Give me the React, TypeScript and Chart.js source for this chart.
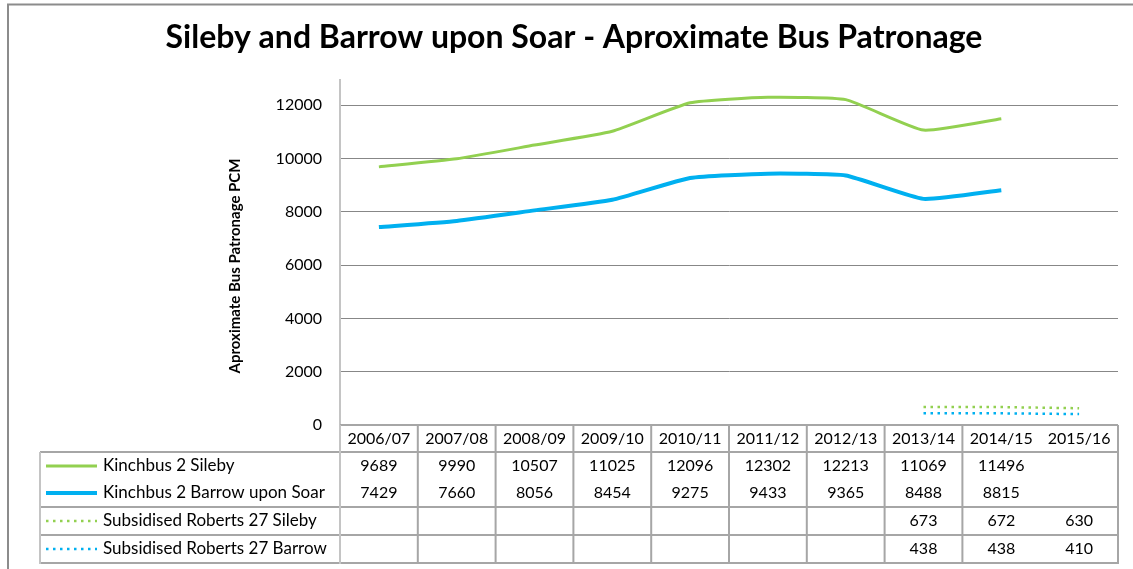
import React, { useEffect, useRef } from 'react';
import { Chart, registerables } from 'chart.js';

Chart.register(...registerables);

const chartTitle = 'Sileby and Barrow upon Soar - Aproximate Bus Patronage';
const yAxisTitle = 'Aproximate Bus Patronage PCM';

const categories = ['2006/07', '2007/08', '2008/09', '2009/10', '2010/11', '2011/12', '2012/13', '2013/14', '2014/15', '2015/16'];

const kinchbusSileby = [9689, 9990, 10507, 11025, 12096, 12302, 12213, 11069, 11496, null];
const kinchbusBarrow = [7429, 7660, 8056, 8454, 9275, 9433, 9365, 8488, 8815, null];
const robertsSileby = [null, null, null, null, null, null, null, 673, 672, 630];
const robertsBarrow = [null, null, null, null, null, null, null, 438, 438, 410];

const seriesNames = [
  'Kinchbus 2 Sileby',
  'Kinchbus 2 Barrow upon Soar',
  'Subsidised Roberts 27 Sileby',
  'Subsidised Roberts 27 Barrow',
];

const yTickValues = [0, 2000, 4000, 6000, 8000, 10000, 12000];

const GREEN = '#92D050';
const BLUE = '#00B0F0';

const FONT = 'Lato, "Noto Sans", sans-serif';

const tablePlugin = {
  id: 'frameTitleTable',
  afterDraw(chart: any) {
    const ctx = chart.ctx as CanvasRenderingContext2D;
    const area = chart.chartArea;
    const n = categories.length;
    const colW = (area.right - area.left) / n;
    const xs = chart.scales.x;
    ctx.save();

    // outer frame (top and left)
    ctx.strokeStyle = '#8c8c8c';
    ctx.lineWidth = 2;
    ctx.beginPath();
    ctx.moveTo(8, 569);
    ctx.lineTo(8, 4.5);
    ctx.lineTo(1133, 4.5);
    ctx.stroke();

    // title
    ctx.fillStyle = '#000';
    ctx.font = 'bold 32px ' + FONT;
    ctx.textAlign = 'center';
    ctx.textBaseline = 'alphabetic';
    ctx.fillText(chartTitle, 574, 48);

    // y axis title
    ctx.save();
    ctx.translate(235, 266);
    ctx.rotate(-Math.PI / 2);
    ctx.font = 'bold 15px ' + FONT;
    ctx.textAlign = 'center';
    ctx.textBaseline = 'middle';
    ctx.fillText(yAxisTitle, 0, 0);
    ctx.restore();

    // data table
    const top = area.bottom;
    const yHeader = top + 27;
    const yGroup = top + 82;
    const yRow3 = top + 110;
    const yBottom = top + 138;
    const tableLeft = 40;

    ctx.strokeStyle = '#a6a6a6';
    ctx.lineWidth = 2;
    ctx.beginPath();
    [yHeader, yGroup, yRow3, yBottom].forEach((y) => {
      ctx.moveTo(tableLeft, y);
      ctx.lineTo(area.right, y);
    });
    ctx.moveTo(area.left, top);
    ctx.lineTo(area.right, top);
    for (let k = 1; k < n; k++) {
      if (k === n - 1) continue;
      const x = area.left + k * colW;
      ctx.moveTo(x, top);
      ctx.lineTo(x, yBottom);
    }
    ctx.moveTo(area.right, top);
    ctx.lineTo(area.right, yBottom + 1);
    ctx.stroke();

    ctx.strokeStyle = '#c4c4c4';
    ctx.beginPath();
    ctx.moveTo(tableLeft, yHeader);
    ctx.lineTo(tableLeft, yBottom + 1);
    ctx.moveTo(area.left, top);
    ctx.lineTo(area.left, yBottom + 1);
    ctx.stroke();

    // header labels and values
    ctx.fillStyle = '#000';
    ctx.font = '16px ' + FONT;
    ctx.textAlign = 'center';
    ctx.textBaseline = 'middle';
    const rowYs = [top + 41, top + 68, top + 96, top + 124];
    const allSeries = [kinchbusSileby, kinchbusBarrow, robertsSileby, robertsBarrow];
    categories.forEach((c, i) => {
      const cx = xs.getPixelForValue(i);
      ctx.fillText(c, cx, top + 14);
      allSeries.forEach((s, r) => {
        const v = s[i];
        if (v !== null && v !== undefined) ctx.fillText(String(v), cx, rowYs[r]);
      });
    });

    // legend keys
    const keyX1 = 46;
    const keyX2 = 97;
    const keyStyles = [
      { color: GREEN, width: 3, dash: [] as number[] },
      { color: BLUE, width: 4, dash: [] as number[] },
      { color: GREEN, width: 2.5, dash: [2.5, 4.5] },
      { color: BLUE, width: 2.5, dash: [2.5, 4.5] },
    ];
    keyStyles.forEach((k, r) => {
      ctx.strokeStyle = k.color;
      ctx.lineWidth = k.width;
      ctx.setLineDash(k.dash);
      ctx.beginPath();
      ctx.moveTo(keyX1, rowYs[r]);
      ctx.lineTo(keyX2, rowYs[r]);
      ctx.stroke();
    });
    ctx.setLineDash([]);
    ctx.textAlign = 'left';
    ctx.fillStyle = '#000';
    ctx.font = '17px ' + FONT;
    seriesNames.forEach((name, r) => {
      ctx.fillText(name, 103, rowYs[r]);
    });

    ctx.restore();
  },
};

export default function App() {
  const canvasRef = useRef<HTMLCanvasElement | null>(null);

  useEffect(() => {
    if (!canvasRef.current) return;
    Chart.defaults.font.family = FONT;
    const chart = new Chart(canvasRef.current, {
      type: 'line',
      data: {
        labels: categories,
        datasets: [
          {
            label: seriesNames[0],
            data: kinchbusSileby,
            borderColor: GREEN,
            backgroundColor: GREEN,
            borderWidth: 3,
            pointRadius: 0,
            tension: 0.15,
          },
          {
            label: seriesNames[1],
            data: kinchbusBarrow,
            borderColor: BLUE,
            backgroundColor: BLUE,
            borderWidth: 4,
            pointRadius: 0,
            tension: 0.15,
          },
          {
            label: seriesNames[2],
            data: robertsSileby,
            borderColor: GREEN,
            backgroundColor: GREEN,
            borderWidth: 2.5,
            borderDash: [2.5, 4.5],
            pointRadius: 0,
            tension: 0,
          },
          {
            label: seriesNames[3],
            data: robertsBarrow,
            borderColor: BLUE,
            backgroundColor: BLUE,
            borderWidth: 2.5,
            borderDash: [2.5, 4.5],
            pointRadius: 0,
            tension: 0,
          },
        ],
      },
      options: {
        responsive: false,
        animation: false,
        devicePixelRatio: 1,
        layout: { padding: { top: 80, left: 0, right: 15, bottom: 144 } },
        plugins: {
          legend: { display: false },
          title: { display: false },
          tooltip: { enabled: false },
        },
        scales: {
          x: {
            type: 'category',
            display: false,
            offset: true,
            grid: { display: false },
          },
          y: {
            min: 0,
            max: 12950,
            afterBuildTicks: (scale: any) => {
              scale.ticks = yTickValues.map((v) => ({ value: v }));
            },
            afterFit: (scale: any) => {
              scale.width = 340;
            },
            ticks: {
              padding: 18,
              color: '#000',
              font: { size: 16, family: FONT },
              callback: (v: any) => String(v),
            },
            grid: {
              color: '#878787',
              lineWidth: 1,
              drawTicks: false,
            },
            border: { display: true, color: '#c4c4c4', width: 2 },
          },
        },
      },
      plugins: [tablePlugin],
    } as any);
    return () => chart.destroy();
  }, []);

  return (
    <div style={{ position: 'absolute', left: 0, top: 0, width: 1133, height: 569, background: '#fff' }}>
      <canvas ref={canvasRef} width={1133} height={569} style={{ display: 'block' }} />
    </div>
  );
}
